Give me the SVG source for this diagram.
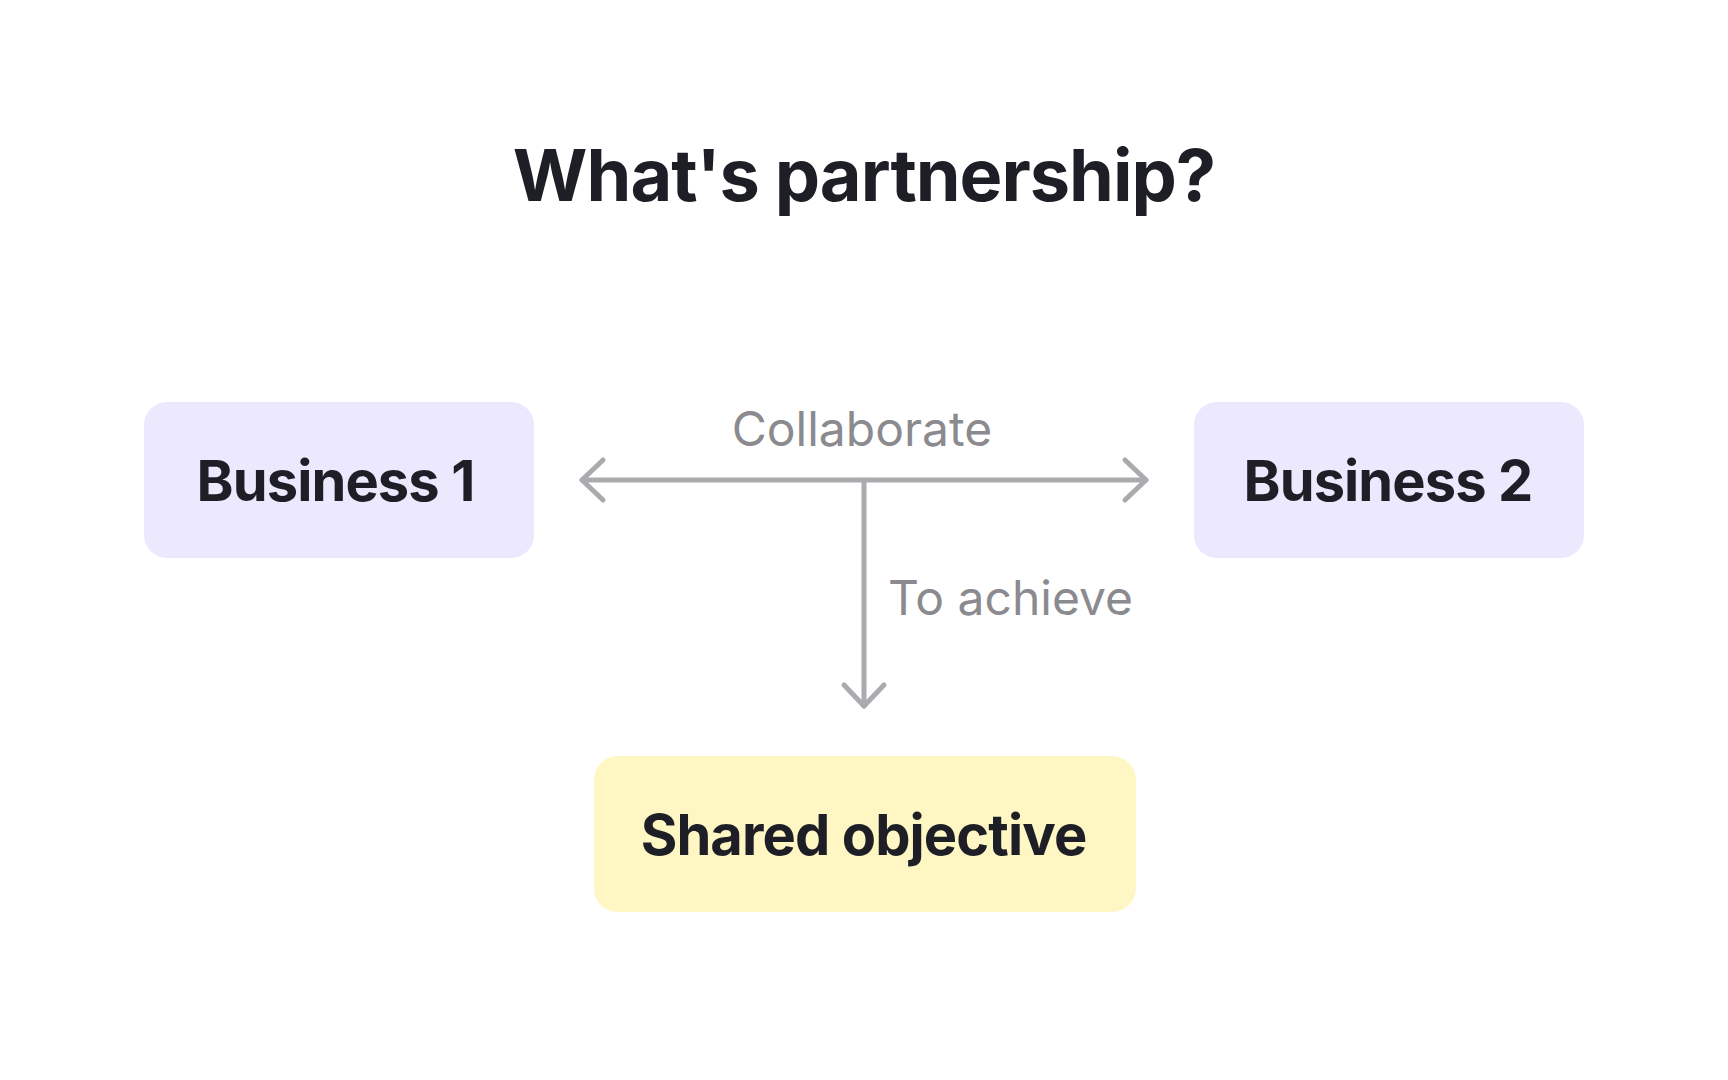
<svg xmlns="http://www.w3.org/2000/svg" width="1728" height="1080" viewBox="0 0 1728 1080">
  <style>
    .title { font-family: Inter, "Noto Sans", "Liberation Sans", sans-serif; font-weight: 700; font-size: 72px; letter-spacing: -1px; fill: #1e1f26; }
    .node-text { font-family: Inter, "Noto Sans", "Liberation Sans", sans-serif; font-weight: 700; font-size: 56px; letter-spacing: -0.9px; fill: #1e1f26; }
    .label { font-family: Inter, "Noto Sans", "Liberation Sans", sans-serif; font-weight: 400; font-size: 48px; fill: #8a8a8f; }
    .purple { fill: #ece8fd; }
    .yellow { fill: #fef7c3; }
    .conn { fill: none; stroke: #ababaf; stroke-width: 5; stroke-linecap: round; stroke-linejoin: round; }
  </style>
  <defs>
    <marker id="chev" markerUnits="userSpaceOnUse" markerWidth="60" markerHeight="60" viewBox="-30 -30 60 60" refX="0" refY="0" orient="auto-start-reverse" overflow="visible">
      <path d="M -21 -20 L 0 0 L -21 20" fill="none" stroke="#ababaf" stroke-width="5" stroke-linecap="round" stroke-linejoin="round"/>
    </marker>
  </defs>
  <rect width="1728" height="1080" fill="#ffffff"/>
  <text class="title" x="864" y="201" text-anchor="middle">What's partnership?</text>

  <g id="connectors">
    <path class="conn" d="M 582 480 L 1146 480" marker-start="url(#chev)" marker-end="url(#chev)"/>
    <path class="conn" d="M 864 480 L 864 706" marker-end="url(#chev)"/>
    <text class="label" x="862" y="446" text-anchor="middle">Collaborate</text>
    <text class="label" x="888" y="615">To achieve</text>
  </g>

  <g id="business1">
    <rect class="purple" x="144" y="402" width="390" height="156" rx="23"/>
    <text class="node-text" x="335.5" y="501" text-anchor="middle">Business 1</text>
  </g>
  <g id="business2">
    <rect class="purple" x="1194" y="402" width="390" height="156" rx="23"/>
    <text class="node-text" x="1388" y="501" text-anchor="middle">Business 2</text>
  </g>
  <g id="shared">
    <rect class="yellow" x="594" y="756" width="542" height="156" rx="24"/>
    <text class="node-text" x="863.5" y="855" text-anchor="middle">Shared objective</text>
  </g>
</svg>
